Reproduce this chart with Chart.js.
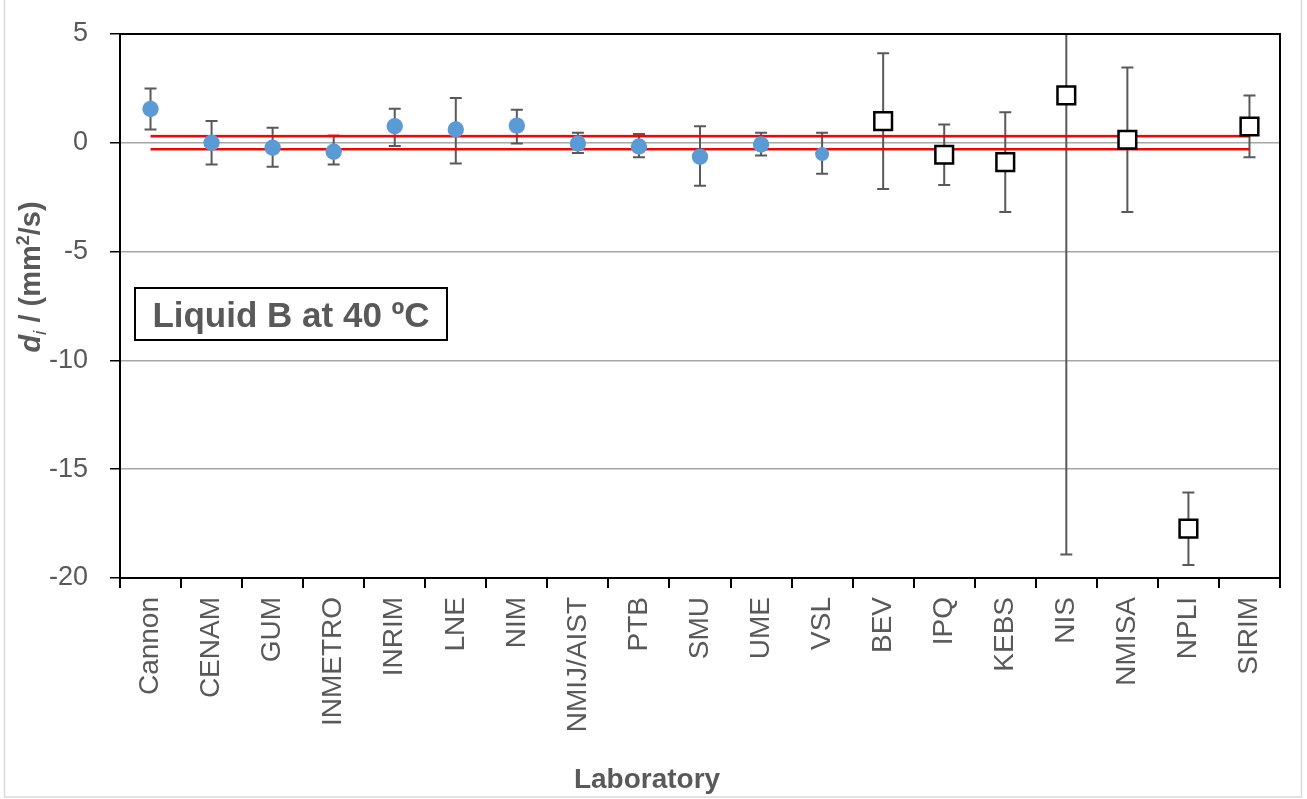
<!DOCTYPE html>
<html>
<head>
<meta charset="utf-8">
<script src="https://cdn.jsdelivr.net/npm/chart.js@4.4.0/dist/chart.umd.min.js"></script>
<style>
html,body{margin:0;padding:0;background:#fff;}
#wrap{width:1307px;height:799px;position:relative;}
</style>
</head>
<body>
<div id="wrap"><canvas id="c" width="1307" height="799"></canvas></div>
<script>
// ---- data ----
const labs = ['Cannon','CENAM','GUM','INMETRO','INRIM','LNE','NIM','NMIJ/AIST','PTB','SMU','UME','VSL','BEV','IPQ','KEBS','NIS','NMISA','NPLI','SIRIM'];
const nmiValues = [1.55, 0.00, -0.23, -0.41, 0.76, 0.61, 0.79, -0.03, -0.17, -0.64, -0.08, -0.52, null, null, null, null, null, null, null];
const otherValues = [null, null, null, null, null, null, null, null, null, null, null, null, 1.00, -0.55, -0.89, 2.18, 0.14, -17.73, 0.75];
const errUpper = [2.50, 1.00, 0.69, 0.33, 1.56, 2.06, 1.52, 0.46, 0.40, 0.76, 0.46, 0.46, 4.12, 0.84, 1.40, 23.2, 3.46, -16.07, 2.17];
const errLower = [0.61, -1.00, -1.10, -1.00, -0.15, -0.95, -0.03, -0.47, -0.66, -1.97, -0.58, -1.42, -2.12, -1.94, -3.18, -18.92, -3.18, -19.40, -0.66];
const refUpper = labs.map(() => 0.3);
const refLower = labs.map(() => -0.3);
const yTicks = [5, 0, -5, -10, -15, -20];

const TXT = '#595959';
const FONT = '"Liberation Sans", Arial, sans-serif';

const errorBars = {
  id: 'errorBars',
  beforeDatasetsDraw(chart) {
    const {ctx, chartArea: a, scales: {x, y}} = chart;
    ctx.save();
    ctx.beginPath();
    ctx.rect(a.left, a.top, a.right - a.left, a.bottom - a.top);
    ctx.clip();
    ctx.strokeStyle = '#595959';
    ctx.lineWidth = 2;
    labs.forEach((l, i) => {
      const px = x.getPixelForValue(i);
      const yt = y.getPixelForValue(errUpper[i]);
      const yb = y.getPixelForValue(errLower[i]);
      ctx.beginPath();
      ctx.moveTo(px, yt); ctx.lineTo(px, yb);
      ctx.moveTo(px - 6, yt); ctx.lineTo(px + 6, yt);
      ctx.moveTo(px - 6, yb); ctx.lineTo(px + 6, yb);
      ctx.stroke();
    });
    ctx.restore();
  },
  afterDraw(chart) {
    const {ctx, chartArea: a} = chart;
    ctx.save();
    // plot border
    ctx.strokeStyle = '#000';
    ctx.lineWidth = 2;
    ctx.strokeRect(a.left, a.top, a.right - a.left, a.bottom - a.top);
    // outer chart border
    ctx.strokeStyle = '#d9d9d9';
    ctx.lineWidth = 1.5;
    ctx.strokeRect(4.5, -5, 1297, 802);
    // x title
    ctx.fillStyle = TXT;
    ctx.font = 'bold 28px ' + FONT;
    ctx.textAlign = 'center';
    ctx.textBaseline = 'alphabetic';
    ctx.fillText('Laboratory', 647, 788);
    // y title with italic d and subscript i
    ctx.save();
    ctx.translate(40, 277);
    ctx.rotate(-Math.PI / 2);
    const f1 = 'italic bold 29px ' + FONT;
    const f2 = 'italic 19px ' + FONT;
    const f3 = 'bold 29px ' + FONT;
    const f4 = 'bold 18px ' + FONT;
    const segs = [
      {t: 'd', f: f1, dy: 0},
      {t: 'i', f: f2, dy: 6},
      {t: ' / (mm', f: f3, dy: 0},
      {t: '2', f: f4, dy: -11},
      {t: '/s)', f: f3, dy: 0}
    ];
    let total = 0;
    segs.forEach(s => { ctx.font = s.f; s.w = ctx.measureText(s.t).width; total += s.w; });
    let cx = -total / 2;
    ctx.textAlign = 'left';
    segs.forEach(s => { ctx.font = s.f; ctx.fillText(s.t, cx, s.dy); cx += s.w; });
    ctx.restore();
    // text box
    ctx.fillStyle = '#fff';
    ctx.fillRect(135, 288, 312, 52);
    ctx.strokeStyle = '#000';
    ctx.lineWidth = 2;
    ctx.strokeRect(135, 288, 312, 52);
    ctx.fillStyle = TXT;
    ctx.font = 'bold 35px ' + FONT;
    ctx.textAlign = 'center';
    ctx.fillText('Liquid B at 40 \u00BAC', 291, 327);
    ctx.restore();
  }
};

new Chart(document.getElementById('c'), {
  type: 'line',
  data: {
    labels: labs,
    datasets: [
      {
        label: 'NMI', data: nmiValues, showLine: false,
        pointStyle: 'circle',
        pointRadius: ctx => (labs[ctx.dataIndex] === 'VSL' ? 7 : 8.2),
        pointBackgroundColor: '#5b9bd5', pointBorderColor: '#5b9bd5', pointBorderWidth: 0,
        order: 1
      },
      {
        label: 'Other', data: otherValues, showLine: false,
        pointStyle: 'rect', pointRadius: 12.5,
        pointBackgroundColor: '#ffffff', pointBorderColor: '#000000', pointBorderWidth: 2.5,
        order: 2
      },
      {
        label: 'upper', data: refUpper, borderColor: '#ff0000', borderWidth: 2.5,
        pointRadius: 0, fill: false, order: 3
      },
      {
        label: 'lower', data: refLower, borderColor: '#ff0000', borderWidth: 2.5,
        pointRadius: 0, fill: false, order: 4
      }
    ]
  },
  options: {
    responsive: false,
    animation: false,
    layout: {padding: {left: 0, right: 27, top: 34, bottom: 0}},
    plugins: {legend: {display: false}, tooltip: {enabled: false}},
    scales: {
      x: {
        type: 'category',
        offset: true,
        afterFit(s) { s.height = 799 - 578; s.paddingLeft = 0; s.paddingRight = 0; },
        grid: {offset: true, drawOnChartArea: false, drawTicks: true, tickLength: 10, tickColor: '#000', lineWidth: 2},
        border: {display: false},
        ticks: {
          autoSkip: false, minRotation: 90, maxRotation: 90, padding: 9,
          color: TXT, font: {family: FONT, size: 28}
        }
      },
      y: {
        min: -20, max: 5,
        afterFit(s) { s.width = 120; s.paddingTop = 0; s.paddingBottom = 0; },
        afterBuildTicks(s) { s.ticks = yTicks.map(v => ({value: v})); },
        grid: {
          color: c => (c.tick && (c.tick.value === 5 || c.tick.value === -20)) ? 'rgba(0,0,0,0)' : '#a6a6a6',
          lineWidth: 1.5, tickLength: 10, tickColor: '#000', drawTicks: true
        },
        border: {display: false},
        ticks: {color: TXT, font: {family: FONT, size: 27}, padding: 22}
      }
    }
  },
  plugins: [errorBars]
});
</script>
</body>
</html>
